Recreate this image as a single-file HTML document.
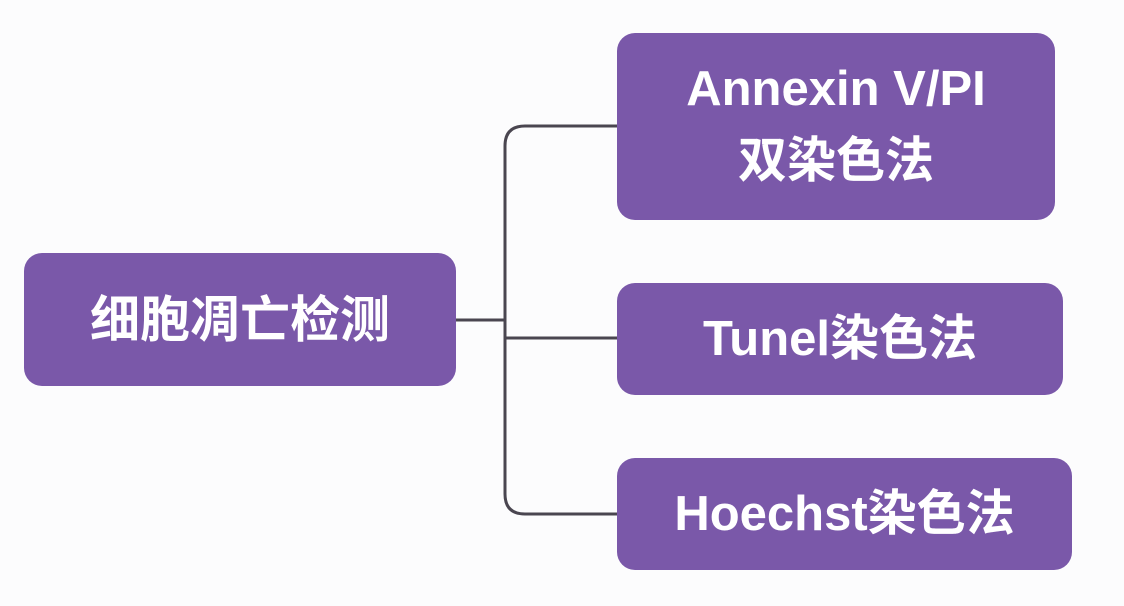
<!DOCTYPE html>
<html><head><meta charset="utf-8"><style>
body{margin:0;width:1124px;height:606px;background:#fcfcfd;position:relative;overflow:hidden;font-family:"Liberation Sans","Noto Sans CJK SC",sans-serif;}
.b{position:absolute;background:#7a58a9;border-radius:18px;color:#fff;font-weight:bold;font-size:49px;display:flex;align-items:center;justify-content:center;text-align:center;line-height:72px;}
svg{position:absolute;left:0;top:0}
</style></head><body>
<svg width="1124" height="606"><g fill="none" stroke="#4a4650" stroke-width="3">
<path d="M455 320 H505"/>
<path d="M617 126 H525 Q505 126 505 146 V494 Q505 514 525 514 H617"/>
<path d="M505 338 H617"/>
</g></svg>
<div class="b" style="left:24px;top:253px;width:432px;height:133px;font-size:50px">细胞凋亡检测</div>
<div class="b" style="left:617px;top:33px;width:438px;height:187px"><div style="margin-top:-4px">Annexin V/PI<br>双染色法</div></div>
<div class="b" style="left:617px;top:283px;width:446px;height:112px">Tunel染色法</div>
<div class="b" style="left:617px;top:458px;width:455px;height:112px">Hoechst染色法</div>
</body></html>
